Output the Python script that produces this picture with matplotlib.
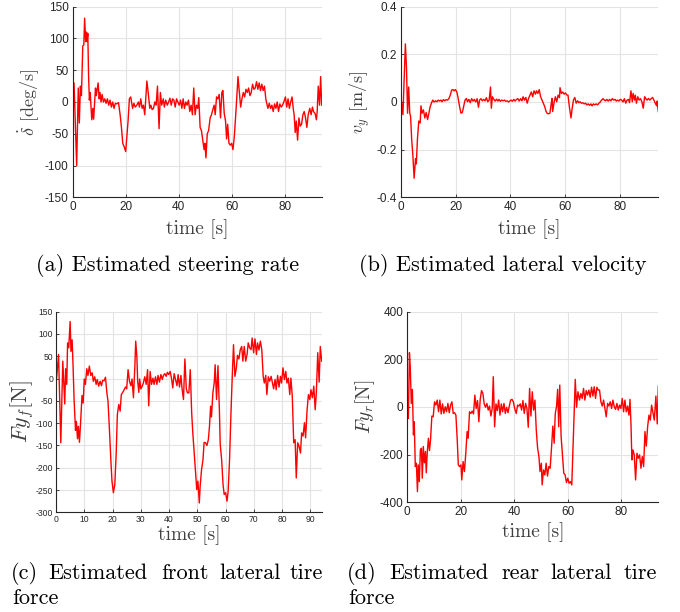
import matplotlib
matplotlib.use("Agg")
import matplotlib.pyplot as plt

plt.rcParams['mathtext.fontset'] = 'cm'
plt.rcParams['axes.unicode_minus'] = False
plt.rcParams['font.family'] = ['Liberation Sans', 'DejaVu Sans']

# (a) estimated steering rate [deg/s]
t_a = [0.0, 0.5, 1.5, 2.1, 2.5, 2.9, 3.3, 3.8, 4.2, 4.5, 4.9, 5.2, 5.4, 5.7, 6.0, 6.3, 6.6, 7.2, 7.6, 7.9,
       8.6, 8.9, 9.6, 10.0, 10.3, 10.7, 11.1, 11.6, 12.1, 12.6, 13.1, 13.6, 14.1, 14.6, 15.1, 15.6, 16.1, 16.6,
       17.3, 17.9, 18.4, 18.9, 19.4, 20.0, 20.7, 20.9, 21.4, 21.9, 22.6, 23.1, 23.6, 24.2, 24.8, 25.2, 25.7,
       26.2, 26.7, 27.2, 28.0, 28.5, 29.1, 29.5, 30.0, 30.5, 31.0, 31.5, 32.0, 32.6, 33.1, 33.6, 34.2, 34.6,
       35.1, 35.7, 36.2, 36.7, 37.2, 37.7, 38.2, 38.7, 39.2, 39.7, 40.2, 40.7, 41.2, 41.7, 42.2, 42.7, 43.2,
       43.7, 44.2, 44.7, 45.2, 45.7, 46.2, 46.7, 47.2, 47.6, 48.1, 48.6, 49.1, 49.6, 49.9, 50.3, 50.8, 51.3,
       51.9, 52.4, 52.9, 53.4, 53.8, 54.3, 54.8, 55.3, 55.8, 56.3, 56.7, 57.2, 57.7, 58.1, 58.5, 59.0, 59.5,
       60.0, 60.5, 61.0, 61.7, 62.4, 62.9, 63.4, 63.9, 64.4, 64.9, 65.4, 65.9, 66.4, 66.9, 67.4, 67.9, 68.4,
       68.9, 69.4, 69.9, 70.4, 70.9, 71.4, 71.9, 72.4, 72.9, 73.4, 73.7, 74.2, 74.7, 75.2, 75.7, 76.2, 76.7,
       77.2, 77.7, 78.2, 78.7, 79.2, 79.7, 80.3, 80.8, 81.3, 81.8, 82.3, 82.8, 83.3, 83.6, 84.0, 84.4, 84.9,
       85.4, 85.9, 86.4, 86.9, 87.4, 87.9, 88.4, 88.9, 89.5, 90.0, 90.5, 90.9, 91.5, 92.0, 92.3, 92.7, 93.2,
       93.6, 94.0]
steer_rate = [0, 30, -100, 22, -33, 25, 10, 88, 90, 132, 95, 110, 95, 108, 40, 3, 15, -28, -10, -27,
              22, 10, 30, 5, 15, 0, 12, 0, 5, -2, 5, -5, 3, -8, 0, -10, -2, -3,
              -1, -20, -40, -65, -70, -78, -40, -30, 5, 8, -10, -2, -8, -5, 0, -8, 5,
              -10, -5, -20, 33, 15, -10, -5, -12, -10, 0, -5, 25, -42, 15, -5, 5, -8,
              3, -5, 0, 6, -5, 5, 3, -8, 5, 0, -5, 3, -10, 5, -10, 0, -5,
              3, -15, -5, -20, 22, -20, -5, -10, 7, -40, -45, -60, -75, -65, -88, -50, -45,
              -25, -20, -12, -5, -20, 8, 5, 12, -25, 15, 18, -18, -30, -58, -35, -65, -68,
              -65, -75, -55, -10, 40, 15, -8, 5, 15, 8, 20, 15, 22, 10, 15, 28, 20,
              22, 32, 20, 30, 18, 28, 18, 25, 5, -5, -10, -2, -10, -5, -15, -3, -10,
              0, -15, -3, -8, -5, 0, 8, -8, 5, -10, 0, 8, -12, -20, -48, -30, -60,
              -25, -38, -35, -20, -15, -25, -40, -20, -10, -20, -8, -15, -18, -28, -15, 25, -5,
              40, -5]

# (b) estimated lateral velocity [m/s]
t_b = [0.2, 0.7, 1.6, 2.0, 2.4, 2.8, 3.2, 3.5, 3.9, 4.3, 4.8, 5.3, 5.6, 6.0, 6.5, 7.0, 7.3, 7.7, 8.2, 8.7,
       9.2, 9.7, 10.2, 10.6, 11.1, 11.6, 12.1, 12.6, 13.1, 13.6, 14.1, 14.6, 15.0, 15.5, 16.0, 16.5, 17.0,
       17.5, 18.0, 18.5, 19.0, 19.4, 19.9, 20.4, 20.9, 21.4, 21.9, 22.4, 22.9, 23.4, 23.9, 24.3, 24.8, 25.3,
       25.8, 26.3, 26.8, 27.3, 27.8, 28.3, 28.7, 29.2, 29.7, 30.2, 30.7, 31.2, 31.7, 32.2, 32.7, 33.0, 33.4,
       33.9, 34.4, 34.9, 35.4, 35.8, 36.3, 36.8, 37.3, 37.8, 38.3, 38.8, 39.3, 39.8, 40.2, 40.7, 41.2, 41.7,
       42.2, 42.7, 43.2, 43.7, 44.2, 44.6, 45.1, 45.6, 46.1, 46.6, 47.1, 47.6, 48.1, 48.6, 49.1, 49.5, 50.0,
       50.5, 51.0, 51.5, 52.0, 52.5, 53.0, 53.5, 54.0, 54.4, 54.9, 55.2, 55.4, 55.9, 56.4, 56.9, 57.4, 57.9,
       58.1, 58.6, 59.1, 59.6, 60.1, 60.6, 61.0, 61.5, 62.1, 62.5, 63.0, 63.5, 64.0, 64.5, 65.0, 65.4, 65.9,
       66.4, 66.9, 67.4, 67.9, 68.4, 68.9, 69.4, 69.8, 70.3, 70.8, 71.3, 71.8, 72.3, 72.8, 73.3, 73.8, 74.3,
       74.7, 75.2, 75.7, 76.2, 76.7, 77.2, 77.7, 78.2, 78.7, 79.1, 79.6, 80.1, 80.6, 81.1, 81.6, 82.1, 82.6,
       83.1, 83.5, 84.0, 84.5, 84.8, 85.3, 85.6, 86.0, 86.5, 87.0, 87.5, 88.0, 88.5, 89.0, 89.4, 89.9, 90.4,
       90.9, 91.4, 91.9, 92.4, 92.9, 93.4, 93.6, 94.0]
lat_vel = [0, -0.053, 0.244, 0.145, -0.047, 0.063, -0.047, -0.06, -0.156, -0.218, -0.32, -0.238, -0.26,
           -0.156, -0.08, -0.088, -0.016, -0.047, -0.033, -0.067, -0.044, -0.074, -0.047, -0.022, -0.005,
           0.008, 0, 0.005, 0.001, 0.008, 0.004, 0.008, 0.001, 0.01, 0.005, 0.01, 0.008, 0.014, 0.029, 0.05,
           0.052, 0.047, 0.052, 0.042, 0.015, -0.019, -0.047, -0.044, -0.019, 0.008, 0.015, 0.001, 0.011,
           -0.003, 0.014, 0.004, 0.011, 0, 0.014, -0.022, 0.008, 0.014, 0.005, 0.011, 0.005, 0.018, 0.001,
           0.008, 0.063, -0.026, 0.022, 0.011, 0.004, 0.012, 0.004, 0.011, 0.003, 0.008, 0.005, 0.008, 0.003,
           0.005, 0, 0.005, 0.008, 0.003, 0.011, 0.004, 0.011, 0.014, 0.004, 0.014, 0.005, 0.022, 0.008,
           0.019, -0.005, 0.015, 0.029, 0.042, 0.022, 0.047, 0.033, 0.047, 0.036, 0.052, 0.022, 0.008,
           -0.005, -0.019, -0.04, -0.049, -0.049, -0.047, -0.005, 0.015, -0.04, -0.003, 0.022, 0.001, 0.029,
           0.018, 0.06, 0.036, 0.042, 0.033, 0.038, 0.029, 0.029, -0.019, -0.067, -0.03, 0.008, 0.019,
           -0.005, 0.005, -0.003, 0.001, -0.005, -0.003, -0.008, -0.005, -0.012, -0.008, -0.014, -0.008,
           -0.016, -0.008, -0.012, -0.008, -0.012, -0.005, 0, 0.008, 0.014, 0.008, 0.005, 0.011, 0.004,
           0.011, 0.005, 0.014, 0.008, 0.011, 0.004, 0.008, 0.004, 0.011, 0.008, 0, 0.014, -0.005, 0.008,
           0.011, -0.003, 0.047, 0.001, 0.036, 0.008, 0.029, -0.005, 0.022, 0.008, 0.014, 0.001, -0.026,
           0.022, 0.014, 0.008, 0.015, 0.008, 0.014, 0.019, 0.008, -0.005, -0.016, 0.004, -0.04]

# (c) estimated front lateral tire force [N]
t_c = [0.2, 0.9, 1.7, 2.4, 3.1, 3.4, 3.8, 4.1, 4.5, 5.0, 5.3, 5.7, 6.0, 6.4, 6.9, 7.2, 7.6, 7.9, 8.3, 8.7,
       9.2, 9.6, 10.0, 10.4, 10.9, 11.3, 11.8, 12.3, 12.8, 13.2, 13.7, 14.2, 14.6, 15.1, 15.6, 16.1, 16.5,
       17.0, 17.5, 18.0, 18.4, 18.9, 19.4, 19.8, 20.3, 20.8, 21.3, 21.7, 22.2, 22.7, 23.1, 23.6, 24.1, 24.6,
       25.0, 25.5, 26.0, 26.5, 26.9, 27.4, 27.9, 28.2, 28.6, 28.9, 29.3, 29.6, 30.0, 30.5, 30.9, 31.4, 31.9,
       32.4, 32.8, 33.3, 33.8, 34.3, 34.7, 35.2, 35.7, 36.1, 36.6, 37.1, 37.6, 38.0, 38.5, 39.0, 39.4, 39.9,
       40.4, 40.9, 41.3, 41.8, 42.3, 42.8, 43.2, 43.7, 44.2, 44.6, 45.1, 45.6, 46.1, 46.5, 47.0, 47.5, 48.0,
       48.4, 48.9, 49.4, 49.8, 50.2, 50.7, 51.0, 51.5, 52.0, 52.4, 52.9, 53.4, 53.9, 54.3, 54.7, 55.0, 55.5,
       56.0, 56.3, 56.8, 57.3, 57.8, 58.1, 58.6, 59.1, 59.5, 60.0, 60.5, 60.9, 61.4, 61.9, 62.4, 62.8, 63.3,
       63.8, 64.2, 64.7, 65.2, 65.7, 66.1, 66.6, 67.1, 67.6, 68.0, 68.5, 69.0, 69.4, 69.9, 70.4, 70.9, 71.3,
       71.8, 72.3, 72.8, 73.3, 73.7, 74.2, 74.6, 75.1, 75.6, 76.1, 76.5, 77.0, 77.5, 77.9, 78.4, 78.9, 79.4,
       79.8, 80.3, 80.8, 81.3, 81.7, 82.2, 82.7, 83.1, 83.6, 84.1, 84.6, 85.0, 85.5, 86.0, 86.5, 86.9, 87.4,
       87.9, 88.3, 88.8, 89.3, 89.8, 90.2, 90.7, 91.2, 91.7, 92.1, 92.6, 93.1, 93.5, 94.0]
front_force = [0, 54, -144, 39, -57, 22, -13, 80, 69, 128, 61, 87, 35, -47, -116, -96, -135, -107, -143, -99,
               -38, -55, -1, -13, 22, 7, 28, 7, 13, -6, 4, -13, -2, -17, -6, -16, -4,
               -5, 3, -32, -51, -114, -182, -230, -256, -238, -167, -81, -58, -73, -36, -31, -25, -19,
               -23, 20, -6, -16, -1, -43, 28, 84, 50, -6, -31, -1, -23, -17, -10, 4, -13,
               20, -61, 16, -13, 1, -13, 4, -13, 7, -8, 9, -2, 7, 11, 5, 14, 9,
               16, -1, -21, 11, -2, -16, 9, -19, 7, -23, -47, 44, -23, -32, -32, 20, -77,
               -122, -167, -215, -249, -230, -279, -241, -204, -182, -143, -144, -150, -137, -107, -62, -86, -32,
               -8, 31, -47, 29, -69, -148, -182, -238, -260, -256, -275, -253, -182, -77, 13, 76, 5,
               24, 52, 44, 65, 72, 39, 72, 39, 54, 80, 69, 65, 91, 58, 89, 54, 80,
               64, 84, 65, 5, -10, 7, -36, 4, -6, 5, -8, -23, -2, -25, 7, -19, 5,
               -10, 24, -2, 16, -10, 1, -36, 1, -41, -144, -137, -223, -144, -152, -167, -122, -129,
               -99, -133, -73, -36, -47, -25, -43, -17, -70, -32, 58, -8, 72, 39]

# (d) estimated rear lateral tire force [N]
t_d = [0.1, 0.4, 0.8, 1.1, 1.5, 1.9, 2.3, 2.6, 3.0, 3.4, 3.8, 4.1, 4.5, 4.9, 5.3, 5.6, 6.0, 6.4, 6.8, 7.1,
       7.5, 7.9, 8.3, 8.7, 9.2, 9.7, 10.2, 10.7, 11.2, 11.7, 12.2, 12.7, 13.2, 13.7, 14.2, 14.7, 15.2, 15.7,
       16.2, 16.7, 17.2, 17.7, 18.2, 18.7, 19.1, 19.6, 20.1, 20.4, 20.9, 21.4, 21.9, 22.4, 22.8, 23.3, 23.8,
       24.3, 24.8, 25.3, 25.8, 26.3, 26.8, 27.3, 27.8, 28.3, 28.8, 29.3, 29.8, 30.3, 30.8, 31.3, 31.8, 32.2,
       32.7, 33.2, 33.7, 34.2, 34.7, 35.2, 35.7, 36.2, 36.7, 37.2, 37.7, 38.2, 38.7, 39.2, 39.7, 40.3, 40.8,
       41.3, 41.8, 42.3, 42.8, 43.3, 43.8, 44.3, 44.8, 45.3, 45.8, 46.3, 46.8, 47.3, 47.8, 48.3, 48.8, 49.3,
       49.7, 50.2, 50.5, 51.0, 51.5, 52.0, 52.5, 53.0, 53.5, 54.0, 54.5, 55.0, 55.4, 55.9, 56.3, 56.7, 57.1,
       57.6, 58.1, 58.6, 59.1, 59.6, 60.1, 60.6, 61.1, 61.6, 62.1, 62.6, 62.9, 63.4, 63.9, 64.5, 65.0, 65.5,
       66.0, 66.5, 67.0, 67.5, 68.0, 68.5, 69.0, 69.5, 70.0, 70.5, 71.0, 71.5, 72.0, 72.5, 73.0, 73.5, 74.0,
       74.5, 75.0, 75.5, 76.0, 76.5, 77.0, 77.5, 78.0, 78.5, 79.0, 79.5, 80.0, 80.5, 81.0, 81.5, 82.0, 82.5,
       83.0, 83.4, 83.8, 84.1, 84.5, 85.0, 85.5, 86.0, 86.5, 87.0, 87.5, 88.0, 88.5, 89.0, 89.5, 90.0, 90.5,
       91.0, 91.5, 92.0, 92.5, 93.1, 93.6, 94.0]
rear_force = [0, -48, 228, 169, 15, 74, -117, -62, -250, -236, -355, -243, -313, -180, -173, -299, -166, -234,
              -187, -276, -187, -131, -183, -138, -38, -41, 22, 8, 29, -20, 29, -29, 13, -27, 1, -20, 15, -24,
              8, 22, -27, -24, -34, -138, -243, -250, -243, -306, -229, -271, -194, -103, -131, -20, -27,
              -17, -29, 50, -6, 27, -62, 32, 69, 57, 13, -1, 15, -13, 4, -38, -6, 127,
              -83, 13, -15, 29, -34, 13, -20, 15, -27, -1, -24, 4, 29, 32, 22, -10, -27,
              8, 4, 13, -13, 27, -27, 15, -6, -85, 78, -38, 64, -13, 29, -97, -173, -208,
              -271, -236, -327, -264, -285, -236, -290, -250, -257, -173, -80, -152, -29, 4, 74, -83, 92,
              -124, -201, -278, -285, -317, -299, -320, -313, -327, -152, 29, 116, -1, 64, 29, 57, 36,
              78, 29, 69, 50, 71, 41, 83, 46, 85, 36, 83, 71, 71, 22, 4, 29, -6,
              -41, 15, 4, 22, -6, 29, 1, -10, 15, -13, 8, -6, 36, -20, 29, -20, 4,
              -34, 32, -83, -222, -180, -201, -306, -194, -215, -201, -257, -208, -250, -103, -164, -83, -34,
              -55, 8, -24, -55, 46, -71, 88]

caption_c = ['(c)', 'Estimated', 'front', 'lateral', 'tire']
caption_d = ['(d)', 'Estimated', 'rear', 'lateral', 'tire']

fig = plt.figure(figsize=(6.8, 6.12), dpi=100)
W, H = 680.0, 612.0


def make_axes(left, top, right, bottom):
    return fig.add_axes([left / W, 1 - bottom / H, (right - left) / W, (bottom - top) / H])


def style(ax, ticksize):
    ax.grid(True, color='#e3e3e3', lw=0.8)
    ax.set_axisbelow(True)
    for s in ['top', 'right']:
        ax.spines[s].set_visible(False)
    for s in ['left', 'bottom']:
        ax.spines[s].set_color('#262626')
        ax.spines[s].set_linewidth(0.8)
    ax.tick_params(direction='in', length=2.5, width=0.6, colors='#262626', labelsize=ticksize, pad=3)


ser = dict(family='cmr10', color='#404040')
cap = dict(family='cmr10', fontsize=16, color='black')

ax_a = make_axes(72.7, 6.7, 321.7, 197.3)
ax_a.plot(t_a, steer_rate, color='red', lw=1)
ax_a.set_xlim(0, 94)
ax_a.set_ylim(-150, 150)
ax_a.set_xticks([0, 20, 40, 60, 80])
ax_a.set_yticks([-150, -100, -50, 0, 50, 100, 150])
style(ax_a, 8.5)
ax_a.set_xlabel('time [s]', fontsize=14, labelpad=4, **ser)
ax_a.set_ylabel(r'$\dot{\delta}$ [deg/s]', fontsize=13, labelpad=3, **ser)

ax_b = make_axes(401, 6.7, 658.3, 197.3)
ax_b.plot(t_b, lat_vel, color='red', lw=1)
ax_b.set_xlim(0, 94)
ax_b.set_ylim(-0.4, 0.4)
ax_b.set_xticks([0, 20, 40, 60, 80])
ax_b.set_yticks([-0.4, -0.2, 0, 0.2, 0.4])
ax_b.set_yticklabels(['-0.4', '-0.2', '0', '0.2', '0.4'])
style(ax_b, 8.5)
ax_b.set_xlabel('time [s]', fontsize=14, labelpad=4, **ser)
ax_b.set_ylabel(r'$v_y$ [m/s]', fontsize=13, labelpad=3, **ser)

ax_c = make_axes(56, 311.7, 321.7, 512.3)
ax_c.plot(t_c, front_force, color='red', lw=1)
ax_c.set_xlim(0, 94)
ax_c.set_ylim(-300, 150)
ax_c.set_xticks(range(0, 91, 10))
ax_c.set_yticks(range(-300, 151, 50))
style(ax_c, 6.2)
ax_c.tick_params(pad=2, length=2)
ax_c.set_xlabel('time [s]', fontsize=14, labelpad=1, **ser)
ax_c.set_ylabel(r'$Fy_f$[N]', fontsize=16, labelpad=0, **ser)

ax_d = make_axes(407.3, 311.7, 658.3, 502.3)
ax_d.plot(t_d, rear_force, color='red', lw=1)
ax_d.set_xlim(0, 94)
ax_d.set_ylim(-400, 400)
ax_d.set_xticks([0, 20, 40, 60, 80])
ax_d.set_yticks([-400, -200, 0, 200, 400])
style(ax_d, 8.5)
ax_d.set_xlabel('time [s]', fontsize=14, labelpad=3, **ser)
ax_d.set_ylabel(r'$Fy_r$[N]', fontsize=14, labelpad=2, **ser)

# sub-figure captions (c) and (d) are justified, so words are set one by one
fig.text(168 / W, 1 - 271 / H, '(a) Estimated steering rate', ha='center', va='baseline', **cap)
fig.text(503 / W, 1 - 271 / H, '(b) Estimated lateral velocity', ha='center', va='baseline', **cap)
for x, w in zip([24, 97.5, 184.5, 250.5, 306], caption_c):
    fig.text(x / W, 1 - 579 / H, w, ha='center', va='baseline', **cap)
fig.text(12.7 / W, 1 - 604 / H, 'force', ha='left', va='baseline', **cap)
for x, w in zip([361.5, 439, 521, 581.5, 640.5], caption_d):
    fig.text(x / W, 1 - 579 / H, w, ha='center', va='baseline', **cap)
fig.text(348 / W, 1 - 604 / H, 'force', ha='left', va='baseline', **cap)

fig.savefig('out.png', dpi=100)
